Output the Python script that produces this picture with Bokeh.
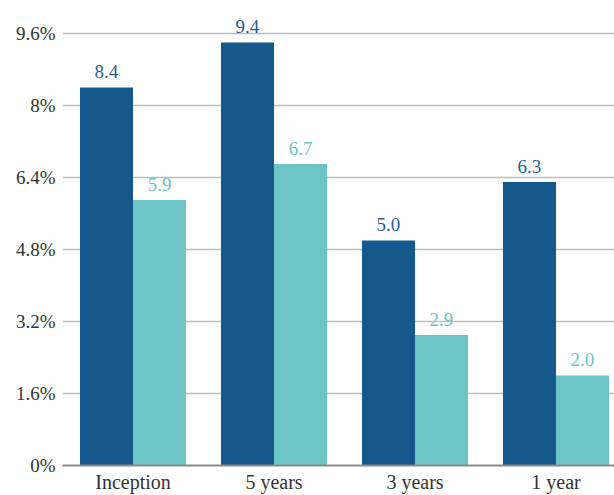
from bokeh.plotting import figure
from bokeh.models import ColumnDataSource, Range1d, FixedTicker
from bokeh.core.properties import value
from bokeh.embed import file_html
from bokeh.resources import INLINE

categories = ["Inception", "5 years", "3 years", "1 year"]
series_a = [8.4, 9.4, 5.0, 6.3]
series_b = [5.9, 6.7, 2.9, 2.0]
y_ticks = [0, 1.6, 3.2, 4.8, 6.4, 8, 9.6]
y_tick_labels = ["0%", "1.6%", "3.2%", "4.8%", "6.4%", "8%", "9.6%"]

DARK = "#14588c"
TEAL = "#6dc4c4"
FONT = "Liberation Serif"

centers = [i + 0.5 for i in range(len(categories))]
bw = 0.376
src_a = ColumnDataSource(dict(x=[c - bw / 2 for c in centers], top=series_a,
                              lab=["%.1f" % v for v in series_a]))
src_b = ColumnDataSource(dict(x=[c + bw / 2 for c in centers], top=series_b,
                              lab=["%.1f" % v for v in series_b]))

p = figure(width=614, height=495, output_backend="svg", toolbar_location=None,
           x_range=Range1d(0, 3.915), y_range=Range1d(0, 10.111),
           min_border_left=62, min_border_right=0, min_border_top=10, min_border_bottom=30)
p.outline_line_color = None
p.background_fill_color = "white"
p.border_fill_color = "white"

p.vbar(x="x", top="top", width=bw, bottom=0, source=src_a, fill_color=DARK, line_color=None)
p.vbar(x="x", top="top", width=bw, bottom=0, source=src_b, fill_color=TEAL, line_color=None)

p.text(x="x", y="top", text="lab", source=src_a, text_align="center", text_baseline="bottom",
       y_offset=-9, text_font=value(FONT), text_font_size="19px", text_color="#1e5f96")
p.text(x="x", y="top", text="lab", source=src_b, text_align="center", text_baseline="bottom",
       y_offset=-9, text_font=value(FONT), text_font_size="19px", text_color=TEAL)

# y axis
p.yaxis.ticker = FixedTicker(ticks=y_ticks)
p.yaxis.major_label_overrides = {t: l for t, l in zip(y_ticks, y_tick_labels)}
p.yaxis.axis_line_color = None
p.yaxis.major_tick_line_color = None
p.yaxis.major_tick_out = 0
p.yaxis.minor_tick_line_color = None
p.yaxis.minor_tick_out = 0
p.yaxis.major_label_text_font = FONT
p.yaxis.major_label_text_font_size = "19px"
p.yaxis.major_label_text_color = "#333333"
p.yaxis.major_label_standoff = 7

p.ygrid.ticker = FixedTicker(ticks=y_ticks)
p.ygrid.grid_line_color = "#bdbdbd"
p.ygrid.grid_line_width = 1.5
p.xgrid.grid_line_color = None

# x axis
p.xaxis.ticker = FixedTicker(ticks=centers)
p.xaxis.major_label_overrides = {c: n for c, n in zip(centers, categories)}
p.xaxis.axis_line_color = "#8a8a8a"
p.xaxis.axis_line_width = 2
p.xaxis.major_tick_line_color = None
p.xaxis.major_tick_out = 0
p.xaxis.minor_tick_line_color = None
p.xaxis.minor_tick_out = 0
p.xaxis.major_label_text_font = FONT
p.xaxis.major_label_text_font_size = "20px"
p.xaxis.major_label_text_color = "#333333"
p.xaxis.major_label_standoff = 5

open("out.html", "w").write(file_html(p, INLINE))
